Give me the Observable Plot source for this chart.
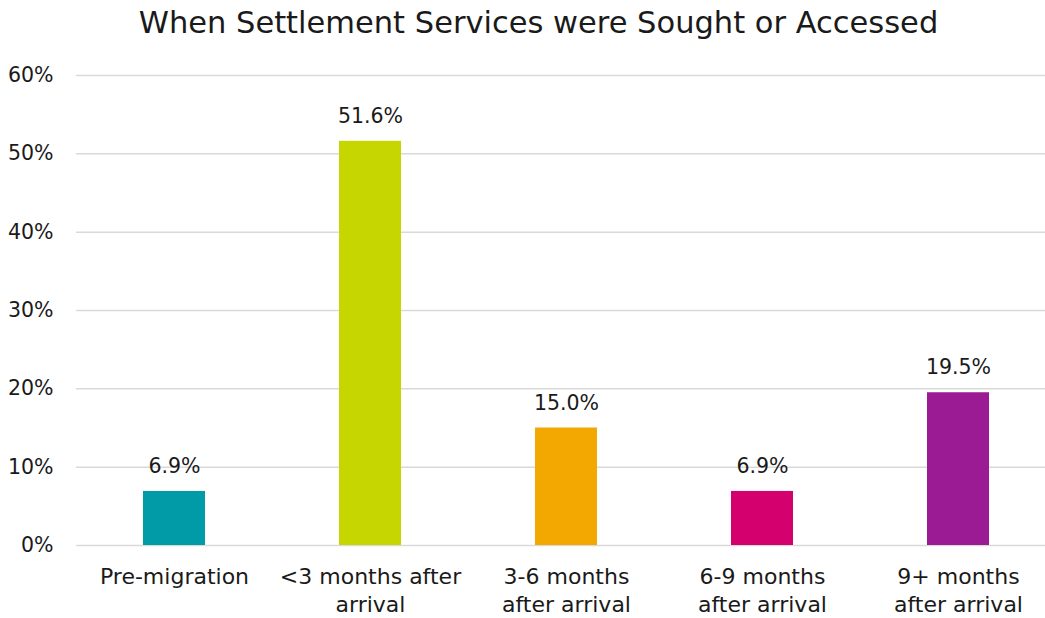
<!DOCTYPE html>
<html>
<head>
<meta charset="utf-8">
<script src="https://cdn.jsdelivr.net/npm/d3@7"></script>
<script src="https://cdn.jsdelivr.net/npm/@observablehq/plot@0.6"></script>
<style>
  html, body { margin: 0; padding: 0; background: #fff; }
  body { width: 1045px; height: 618px; overflow: hidden; font-family: "DejaVu Sans", sans-serif; }
  #title { height: 50px; line-height: 46px; text-align: center; font-size: 30.5px; color: #1a1a1a; padding-left: 32px; box-sizing: border-box; white-space: nowrap; }
  #chart svg { display: block; overflow: visible; }
</style>
</head>
<body>
<div id="title">When Settlement Services were Sought or Accessed</div>
<div id="chart"></div>
<script>
const categories = ["Pre-migration", "<3 months after\narrival", "3-6 months\nafter arrival", "6-9 months\nafter arrival", "9+ months\nafter arrival"];
const values = [6.9, 51.6, 15.0, 6.9, 19.5];
const colors = ["#009BA6", "#C5D600", "#F2A800", "#D4006D", "#9A1B93"];
const yTicks = [0, 10, 20, 30, 40, 50, 60];

const data = categories.map((c, i) => ({category: c, value: values[i], color: colors[i]}));

const chart = Plot.plot({
  width: 1045,
  height: 568,
  marginTop: 25,
  marginBottom: 73,
  marginLeft: 76,
  marginRight: -11,
  style: {fontFamily: "DejaVu Sans, sans-serif", fontSize: "20px", color: "#1a1a1a", background: "#fff"},
  x: {domain: categories, paddingInner: 0.684, paddingOuter: 0.342, label: null},
  y: {domain: [0, 60], label: null},
  marks: [
    Plot.ruleY(yTicks, {stroke: "#d9d9d9", strokeWidth: 1.5}),
    Plot.barY(data, {x: "category", y: "value", fill: "color"}),
    Plot.text(data, {x: "category", y: "value", text: d => d.value.toFixed(1) + "%", dy: -25, fontSize: 20.5, fill: "#1a1a1a"}),
    Plot.axisY({ticks: yTicks, tickSize: 0, tickPadding: 23, tickFormat: d => d + "%", fontSize: 20.5, label: null}),
    Plot.axisX({tickSize: 0, tickPadding: 19, fontSize: 22, lineHeight: 1.27, label: null})
  ]
});
document.getElementById("chart").appendChild(chart);
</script>
</body>
</html>
